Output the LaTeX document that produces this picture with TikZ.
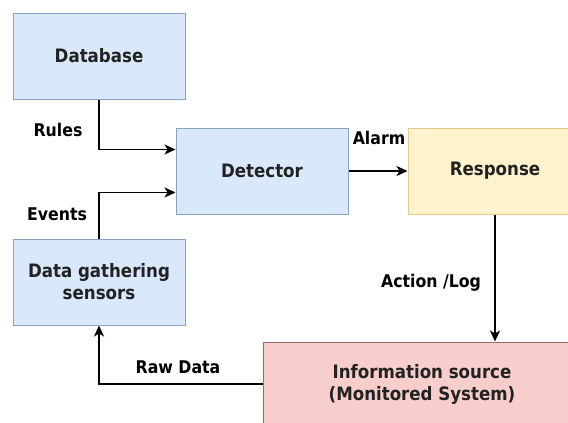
\documentclass[tikz,border=0pt]{standalone}
\usepackage{fontspec}
\setmainfont{DejaVu Sans Condensed}
\usetikzlibrary{arrows.meta}
\definecolor{bluefill}{HTML}{DAE8FC}
\definecolor{blueline}{HTML}{8AA2C4}
\definecolor{yelfill}{HTML}{FFF2CC}
\definecolor{yelline}{HTML}{E2CC8A}
\definecolor{pinkfill}{HTML}{F8CECC}
\definecolor{pinkline}{HTML}{9A6A66}
\definecolor{txt}{HTML}{222222}
\tikzset{
  box/.style={draw, line width=1pt, minimum width=172pt, minimum height=86pt, inner sep=0pt, align=center,
    font=\fontsize{18.5}{22}\selectfont\bfseries, text=txt},
  bluebox/.style={box, fill=bluefill, draw=blueline},
  yelbox/.style={box, fill=yelfill, draw=yelline},
  pinkbox/.style={box, fill=pinkfill, draw=pinkline},
  arr/.style={line width=1.5pt, -{Stealth[length=11pt,width=10pt,inset=3pt]}},
  lbl/.style={font=\fontsize{17.5}{20}\selectfont\bfseries, text=black, inner sep=0pt}
}
\begin{document}
\begin{tikzpicture}[x=1pt,y=-1pt]
\clip (0,0) rectangle (568,423);
\fill[white] (0,0) rectangle (568,423);
\node[bluebox] (db) at (99,56) {Database};
\node[bluebox] (det) at (262,171) {Detector};
\node[yelbox, minimum width=174pt] (resp) at (495,171) {Response};
\node[bluebox] (dgs) at (99,282) {Data gathering\\sensors};
\node[pinkbox, minimum width=318pt, minimum height=84pt] (info) at (422,384) {Information source\\(Monitored System)};
\draw[arr] (db.south) |- ([yshift=21.5pt]det.west);
\draw[arr] (dgs.north) |- ([yshift=-21.5pt]det.west);
\draw[arr] (det.east) -- (resp.west);
\draw[arr] (resp.south) -- (resp.south |- info.north);
\draw[arr] (info.west) -| (dgs.south);
\node[lbl] (lrules) at (58,130) {Rules};
\node[lbl] (levents) at (57,214) {Events};
\node[lbl] (lalarm) at (379,138) {Alarm};
\node[lbl] (laction) at (431,283) {Action /Log};
\node[lbl] (lraw) at (178,367) {Raw Data};
\end{tikzpicture}
\end{document}
